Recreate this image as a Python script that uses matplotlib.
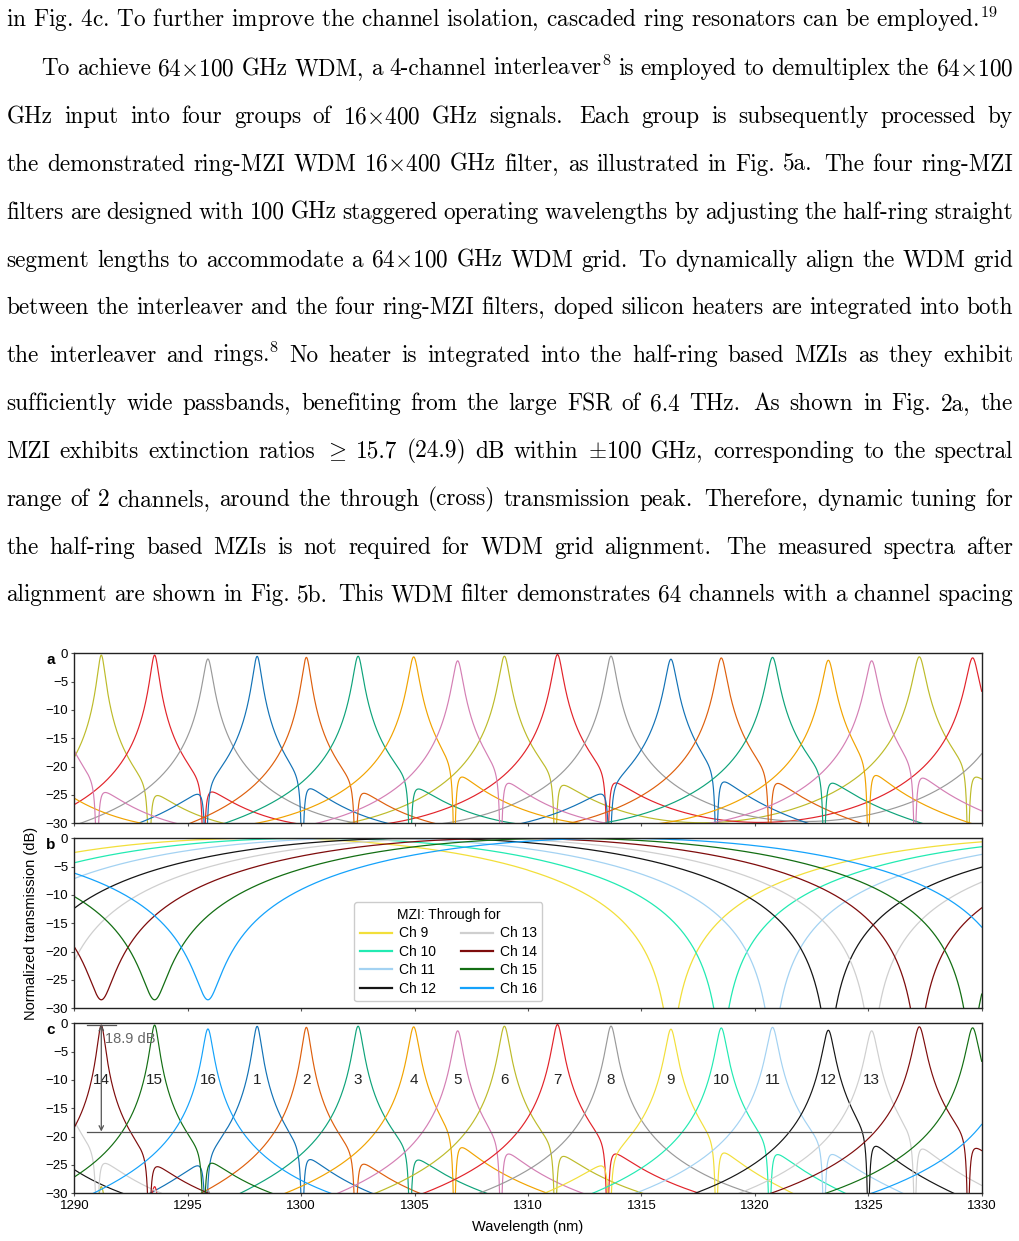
import numpy as np
import matplotlib
matplotlib.use('Agg')
import matplotlib.pyplot as plt

plt.rcParams['mathtext.fontset'] = 'cm'
plt.rcParams['font.family'] = ['Liberation Sans', 'DejaVu Sans']
plt.rcParams['axes.unicode_minus'] = True

# ---------------- paragraph above the figure ----------------
PARA_LINES = [
    r"in Fig. 4c. To further improve the channel isolation, cascaded ring resonators can be employed.$^{\mathrm{19}}$",
    r"To achieve 64$\times$100 GHz WDM, a 4-channel interleaver$^{\mathrm{8}}$ is employed to demultiplex the 64$\times$100",
    r"GHz input into four groups of 16$\times$400 GHz signals. Each group is subsequently processed by",
    r"the demonstrated ring-MZI WDM 16$\times$400 GHz filter, as illustrated in Fig. 5a. The four ring-MZI",
    r"filters are designed with 100 GHz staggered operating wavelengths by adjusting the half-ring straight",
    r"segment lengths to accommodate a 64$\times$100 GHz WDM grid. To dynamically align the WDM grid",
    r"between the interleaver and the four ring-MZI filters, doped silicon heaters are integrated into both",
    r"the interleaver and rings.$^{\mathrm{8}}$ No heater is integrated into the half-ring based MZIs as they exhibit",
    r"sufficiently wide passbands, benefiting from the large FSR of 6.4 THz. As shown in Fig. 2a, the",
    r"MZI exhibits extinction ratios $\geq$ 15.7 (24.9) dB within $\pm$100 GHz, corresponding to the spectral",
    r"range of 2 channels, around the through (cross) transmission peak. Therefore, dynamic tuning for",
    r"the half-ring based MZIs is not required for WDM grid alignment. The measured spectra after",
    r"alignment are shown in Fig. 5b. This WDM filter demonstrates 64 channels with a channel spacing",
]
PARA_JUSTIFY = [False] + [True] * 12
PARA_INDENT = [0, 35] + [0] * 11

# ---------------- ring resonances (panel a) ----------------
# 8 rings, each resonance listed once; three are just outside the window
RING_COLORS = ['#bdbb2a', '#e2232a', '#9a9a9a', '#1272b6',
               '#de5f0c', '#0ea37a', '#f1a300', '#d47fb4']
RING_PEAK_NM = [1286.70, 1288.90, 1291.19, 1293.54, 1295.89, 1298.06, 1300.23,
                1302.51, 1304.96, 1306.90, 1308.96, 1311.30, 1313.66, 1316.30,
                1318.52, 1320.78, 1323.24, 1325.15, 1327.25, 1329.60, 1331.70]
RING_ID = [6, 7, 0, 1, 2, 3, 4, 5, 6, 7, 0, 1, 2, 3, 4, 5, 6, 7, 0, 1, 2]
RING_PEAK_DB = [-0.6, -1.3, -0.3, -0.3, -1.0, -0.5, -0.7, -0.5, -0.6, -1.3, -0.5,
                -0.2, -0.5, -1.0, -0.8, -0.7, -1.2, -1.3, -0.6, -0.8, -0.5]
RING_FWHM_NM = [0.36, 0.36, 0.30, 0.33, 0.38, 0.34, 0.34, 0.38, 0.40, 0.40, 0.40,
                0.40, 0.40, 0.42, 0.42, 0.44, 0.44, 0.45, 0.47, 0.47, 0.47]
# through-port notches imprinted by the other rings
RING_NOTCH_NM = [
    [1293.30, 1311.20, 1329.40],
    [1295.70, 1313.50],
    [],
    [1295.80, 1300.05, 1313.60, 1318.30],
    [1302.40, 1320.65],
    [1304.80, 1323.05],
    [1306.75, 1325.00],
    [1291.00, 1308.80, 1327.05],
]
NOTCH_FWHM_NM = 0.30
NOTCH_DEPTH = 0.9995

# ---------------- MZIs (panel b) ----------------
MZI_LABELS = ['Ch 9', 'Ch 10', 'Ch 11', 'Ch 12', 'Ch 13', 'Ch 14', 'Ch 15', 'Ch 16']
MZI_COLORS = ['#f2df3a', '#22eab2', '#a3d2f2', '#151515',
              '#cfcfcf', '#7e0c0c', '#136e13', '#14a2fb']
MZI_NULL_NM = [1316.30, 1318.52, 1320.78, 1323.24, 1325.15, 1291.19, 1293.54, 1295.89]
MZI_RING = [3, 4, 5, 6, 7, 0, 1, 2]
MZI_FSR_NM = 36.0
MZI_FLOOR_SHORT_DB = -28.5
MZI_FLOOR_LONG_DB = -37.7
MZI_CROSS_FLOOR_DB = -35.0

# ---------------- panel c labels ----------------
CH_LABELS = ['14', '15', '16', '1', '2', '3', '4', '5', '6', '7', '8',
             '9', '10', '11', '12', '13']
CH_LABEL_NM = RING_PEAK_NM[2:18]
CH_LABEL_DB = -10

X_TICKS = [1290, 1295, 1300, 1305, 1310, 1315, 1320, 1325, 1330]
Y_TICKS = [-30, -25, -20, -15, -10, -5, 0]

lam = np.linspace(1290, 1330, 8001)


def lorentz(center, fwhm):
    return 1.0 / (1.0 + (2.0 * (lam - center) / fwhm) ** 2)


def ring_drop(r):
    d = np.zeros_like(lam)
    for c, p, w, rid in zip(RING_PEAK_NM, RING_PEAK_DB, RING_FWHM_NM, RING_ID):
        if rid == r:
            d += 10 ** (p / 10) * lorentz(c, w)
    for n in RING_NOTCH_NM[r]:
        d *= 1 - NOTCH_DEPTH * lorentz(n, NOTCH_FWHM_NM)
    return d


def mzi_through(k):
    floor = np.where(lam < 1310, 10 ** (MZI_FLOOR_SHORT_DB / 10), 10 ** (MZI_FLOOR_LONG_DB / 10))
    return np.sin(np.pi * (lam - MZI_NULL_NM[k]) / MZI_FSR_NM) ** 2 + floor


def mzi_cross(k):
    return np.cos(np.pi * (lam - MZI_NULL_NM[k]) / MZI_FSR_NM) ** 2 + 10 ** (MZI_CROSS_FLOOR_DB / 10)


def db(x):
    return 10 * np.log10(np.maximum(x, 1e-12))


W, H = 1019, 1241
fig = plt.figure(figsize=(W / 100, H / 100), dpi=100)
renderer = fig.canvas.get_renderer()

# ---- paragraph (justified word by word) ----
PARA_FONT = 'cmr10'
PARA_LEFT, PARA_RIGHT = 6.5, 1013.0
PARA_BASE0, PARA_PITCH = 27.3, 47.85
probe = fig.text(0, 0, PARA_LINES[0], fontsize=14, family=PARA_FONT)
w0 = probe.get_window_extent(renderer).width
probe.remove()
para_size = 14 * 993.0 / w0

for i, line in enumerate(PARA_LINES):
    y = 1 - (PARA_BASE0 + i * PARA_PITCH) / H
    x0 = PARA_LEFT + PARA_INDENT[i]
    if not PARA_JUSTIFY[i]:
        fig.text(x0 / W, y, line, fontsize=para_size, family=PARA_FONT, va='baseline')
        continue
    words = [w for w in line.split(' ') if w]
    texts = [fig.text(0, y, w, fontsize=para_size, family=PARA_FONT, va='baseline') for w in words]
    widths = [t.get_window_extent(renderer).width for t in texts]
    weights = []
    for w in words[:-1]:
        if w.endswith('.') and w != 'Fig.':
            weights.append(1.4)
        elif w.endswith(','):
            weights.append(1.1)
        else:
            weights.append(1.0)
    unit = (PARA_RIGHT - x0 - sum(widths)) / sum(weights)
    x = x0
    for j, t in enumerate(texts):
        t.set_x(x / W)
        x += widths[j]
        if j < len(weights):
            x += unit * weights[j]


# ---- axes ----
def px_axes(left, top, right, bottom):
    return fig.add_axes([left / W, 1 - bottom / H, (right - left) / W, (bottom - top) / H])


ax_a = px_axes(74.3, 653.3, 981.7, 823.3)
ax_b = px_axes(74.3, 838.3, 981.7, 1008.3)
ax_c = px_axes(74.3, 1023.3, 981.7, 1193.3)

for ax, letter in zip((ax_a, ax_b, ax_c), 'abc'):
    ax.set_xlim(1290, 1330)
    ax.set_ylim(-30, 0)
    ax.set_xticks(X_TICKS)
    ax.set_yticks(Y_TICKS)
    ax.tick_params(direction='out', length=2.5, width=0.8, color='#555555',
                   labelsize=9.5, pad=2.0)
    for s in ax.spines.values():
        s.set_linewidth(1.0)
        s.set_color('#222222')
    ax.text(-0.021, 0.963, letter, transform=ax.transAxes, ha='right', va='center',
            fontsize=11, fontweight='bold')
ax_a.tick_params(labelbottom=False)
ax_b.tick_params(labelbottom=False)

# panel a: ring drop spectra
drops = [ring_drop(r) for r in range(8)]
for r in range(8):
    ax_a.plot(lam, db(drops[r]), color=RING_COLORS[r], lw=0.85)

# panel b: MZI through responses
for k in range(8):
    ax_b.plot(lam, db(mzi_through(k)), color=MZI_COLORS[k], lw=0.9, label=MZI_LABELS[k])
leg = ax_b.legend(title='MZI: Through for', ncol=2, loc='lower left',
                  bbox_to_anchor=(0.301, 0.0), fontsize=10, title_fontsize=10,
                  frameon=True, fancybox=True, edgecolor='#cccccc', framealpha=1,
                  handlelength=2.3, handletextpad=0.5, labelspacing=0.32,
                  columnspacing=1.8, borderpad=0.4)
for h in leg.get_lines():
    h.set_linewidth(1.6)

# panel c: filter outputs = ring drop x MZI port
for k in range(8):
    r = MZI_RING[k]
    ax_c.plot(lam, db(drops[r] * mzi_through(k)), color=RING_COLORS[r], lw=0.85)
for k in range(8):
    r = MZI_RING[k]
    ax_c.plot(lam, db(drops[r] * mzi_cross(k)), color=MZI_COLORS[k], lw=0.85)

for lab, x in zip(CH_LABELS, CH_LABEL_NM):
    ax_c.text(x, CH_LABEL_DB, lab, ha='center', va='center', fontsize=11, color='#222222')

ax_c.plot([1290.55, 1291.82], [-0.3, -0.3], color='#555555', lw=0.9, zorder=5)
ax_c.plot([1290.55, 1325.1], [-19.1, -19.1], color='#555555', lw=0.9, zorder=5)
ax_c.annotate('', xy=(1291.19, -0.3), xytext=(1291.19, -19.1),
              arrowprops=dict(arrowstyle='<->', color='#555555', lw=0.9,
                              shrinkA=0, shrinkB=0, mutation_scale=8), zorder=5)
ax_c.text(1291.35, -2.8, '18.9 dB', color='#666666', fontsize=10.5, va='center', zorder=6)

ax_c.set_xlabel('Wavelength (nm)', fontsize=10.5, labelpad=6)
fig.text(31.5 / W, 1 - 923.3 / H, 'Normalized transmission (dB)', rotation=90,
         ha='center', va='center', fontsize=10.5)

fig.savefig('out.png', dpi=100)
